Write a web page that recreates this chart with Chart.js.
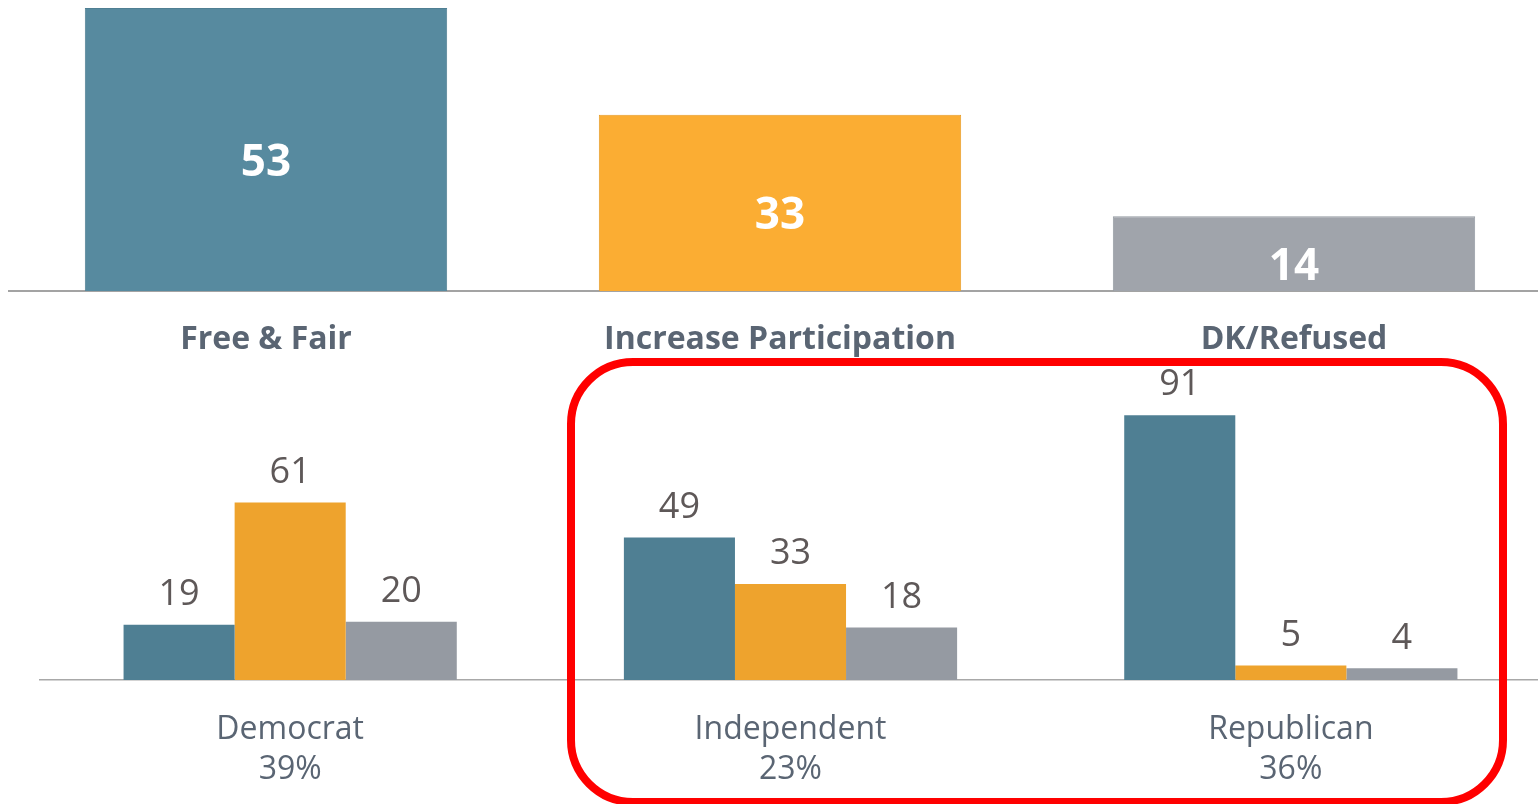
<!DOCTYPE html>
<html>
<head>
<meta charset="utf-8">
<script src="https://cdn.jsdelivr.net/npm/chart.js@4/dist/chart.umd.min.js"></script>
<style>
  html, body { margin:0; padding:0; background:#fff; overflow:hidden; width:1538px; height:804px; }
  #wrap { position:relative; width:1538px; height:804px; overflow:hidden; }
  #c1 { position:absolute; left:0; top:0; }
  #c2 { position:absolute; left:0; top:0; }
  #box { position:absolute; left:567px; top:358px; width:924px; height:432px; border:8px solid #ff0000; border-radius:66px; pointer-events:none; }
</style>
</head>
<body>
<div id="wrap">
  <canvas id="c1" width="1560" height="370" style="width:1560px;height:370px"></canvas>
  <canvas id="c2" width="1560" height="804" style="width:1560px;height:804px"></canvas>
  <div id="box"></div>
</div>
<script>
// ---- data ----
const topCategories = ["Free & Fair", "Increase Participation", "DK/Refused"];
const topValues = [53, 33, 14];

const partyNames = ["Democrat", "Independent", "Republican"];
const partyShares = ["39%", "23%", "36%"];
const freeFairByParty = [19, 49, 91];
const participationByParty = [61, 33, 5];
const dkByParty = [20, 18, 4];

// ---- styles ----
const topColors = ["#578a9f", "#fbad33", "#a0a4ab"];
const topBorders = ["#4f7f93", "#e79c27", "#949aa2"];
const botColors = ["#4f7f93", "#eea32d", "#959aa2"];
const labelColor = "#5a6573";
const numColor = "#5e5858";
const FONT = "'Open Sans', 'Noto Sans', sans-serif";

Chart.defaults.font.family = FONT;
Chart.defaults.animation = false;

const topValuePlugin = {
  id: 'topValues',
  afterDatasetsDraw(chart) {
    const ctx = chart.ctx;
    const meta = chart.getDatasetMeta(0);
    ctx.save();
    ctx.fillStyle = '#ffffff';
    ctx.font = "bold 44px " + FONT;
    ctx.textAlign = 'center';
    ctx.textBaseline = 'middle';
    meta.data.forEach((bar, i) => {
      const y = (bar.y + bar.base) / 2 + 14;
      ctx.fillText(String(chart.data.datasets[0].data[i]), bar.x, y);
    });
    ctx.restore();
  }
};

const botValuePlugin = {
  id: 'botValues',
  afterDatasetsDraw(chart) {
    const ctx = chart.ctx;
    ctx.save();
    ctx.fillStyle = numColor;
    ctx.font = "36px " + FONT;
    ctx.textAlign = 'center';
    ctx.textBaseline = 'middle';
    chart.data.datasets.forEach((ds, di) => {
      const meta = chart.getDatasetMeta(di);
      meta.data.forEach((bar, i) => {
        ctx.fillText(String(ds.data[i]), bar.x, bar.y - 30);
      });
    });
    ctx.restore();
  }
};

new Chart(document.getElementById('c1'), {
  type: 'bar',
  data: {
    labels: topCategories,
    datasets: [{
      data: topValues,
      backgroundColor: topColors,
      borderColor: topBorders,
      borderWidth: 1,
      barPercentage: 0.705,
      categoryPercentage: 1.0
    }]
  },
  options: {
    responsive: false,
    maintainAspectRatio: false,
    layout: { padding: { left: 9, right: 9, top: 0, bottom: 0 } },
    plugins: { legend: { display: false }, tooltip: { enabled: false } },
    scales: {
      x: {
        grid: { display: true, drawOnChartArea: false, drawTicks: false },
        border: { display: true, color: '#a3a3a3', width: 2 },
        ticks: { color: labelColor, font: { size: 32, weight: 'bold' }, padding: 30 },
        afterFit(s) { s.height = 79; }
      },
      y: { display: false, min: 0, max: 54.5 }
    }
  },
  plugins: [topValuePlugin]
});

new Chart(document.getElementById('c2'), {
  type: 'bar',
  data: {
    labels: partyNames.map((n, i) => [n, partyShares[i]]),
    datasets: [
      { label: topCategories[0], data: freeFairByParty, backgroundColor: botColors[0] },
      { label: topCategories[1], data: participationByParty, backgroundColor: botColors[1] },
      { label: topCategories[2], data: dkByParty, backgroundColor: botColors[2] }
    ]
  },
  options: {
    responsive: false,
    maintainAspectRatio: false,
    layout: { padding: { left: 40, right: 19, top: 389, bottom: 0 } },
    datasets: { bar: { barPercentage: 1.0, categoryPercentage: 0.666 } },
    plugins: { legend: { display: false }, tooltip: { enabled: false } },
    scales: {
      x: {
        grid: { display: true, drawOnChartArea: false, drawTicks: false },
        border: { display: true, color: '#a8a8a8', width: 1.5 },
        ticks: { color: labelColor, font: { size: 32, lineHeight: 1.25 }, padding: 30 },
        afterFit(s) { s.height = 124; }
      },
      y: { display: false, min: 0, max: 100 }
    }
  },
  plugins: [botValuePlugin]
});
</script>
</body>
</html>
